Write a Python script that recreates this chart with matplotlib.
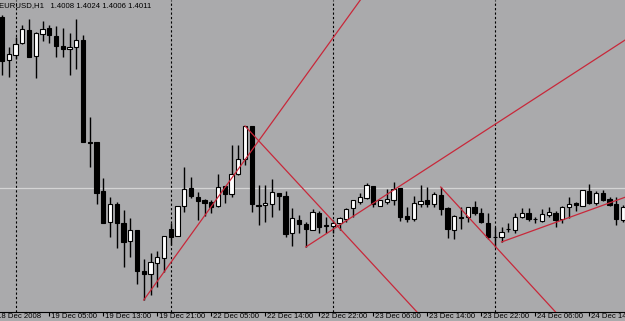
import numpy as np
import matplotlib.pyplot as plt
import matplotlib.transforms as mtransforms

# EURUSD H1 bars, 18 Dec 22:00 -> 24 Dec, left to right
opens = [1.4353, 1.4267, 1.4277, 1.4301, 1.4327, 1.4275, 1.4319, 1.4331, 1.4315, 1.4295,
         1.4289, 1.4293, 1.4307, 1.4103, 1.4103, 1.4005, 1.3943, 1.3979, 1.3941, 1.3905,
         1.3927, 1.3845, 1.3839, 1.3861, 1.3871, 1.3929, 1.3915, 1.3975, 1.4011, 1.3993,
         1.3987, 1.3983, 1.3975, 1.4015, 1.3999, 1.4039, 1.4069, 1.4135, 1.3977, 1.3977,
         1.3979, 1.4001, 1.3995, 1.3921, 1.3947, 1.3939, 1.3927, 1.3961, 1.3937, 1.3935,
         1.3941, 1.3949, 1.3971, 1.3983, 1.3991, 1.4015, 1.3975, 1.3983, 1.3987, 1.4011,
         1.3955, 1.3949, 1.3979, 1.3987, 1.3979, 1.3997, 1.3971, 1.3927, 1.3953, 1.3953,
         1.3973, 1.3961, 1.3941, 1.3913, 1.3913, 1.3929, 1.3927, 1.3953, 1.3961, 1.3949,
         1.3945, 1.3957, 1.3961, 1.3949, 1.3973, 1.3981, 1.3975, 1.4005, 1.3981, 1.4001,
         1.3989, 1.3979, 1.3947]
highs = [1.4357, 1.4293, 1.4313, 1.4337, 1.4349, 1.4323, 1.4345, 1.4337, 1.4335, 1.4331,
         1.4321, 1.4349, 1.4317, 1.4153, 1.4103, 1.4031, 1.3993, 1.3983, 1.3967, 1.3951,
         1.3927, 1.3869, 1.3881, 1.3885, 1.3915, 1.3941, 1.3975, 1.4053, 1.4033, 1.4003,
         1.3989, 1.3987, 1.4039, 1.4015, 1.4097, 1.4097, 1.4135, 1.4135, 1.4017, 1.4017,
         1.4029, 1.4001, 1.4005, 1.3971, 1.3957, 1.3943, 1.3969, 1.3965, 1.3953, 1.3947,
         1.3953, 1.3971, 1.3987, 1.4001, 1.4021, 1.4015, 1.3987, 1.4009, 1.4023, 1.4011,
         1.3973, 1.3995, 1.4017, 1.4013, 1.4003, 1.4013, 1.3973, 1.3957, 1.3973, 1.3973,
         1.3985, 1.3971, 1.3961, 1.3933, 1.3933, 1.3941, 1.3961, 1.3971, 1.3971, 1.3953,
         1.3969, 1.3973, 1.3965, 1.3975, 1.3993, 1.3983, 1.4007, 1.4019, 1.4005, 1.4007,
         1.3993, 1.3993, 1.3977]
lows = [1.4237, 1.4233, 1.4269, 1.4299, 1.4273, 1.4231, 1.4305, 1.4301, 1.4273, 1.4273,
        1.4237, 1.4249, 1.4103, 1.4053, 1.3979, 1.3941, 1.3913, 1.3891, 1.3853, 1.3873,
        1.3819, 1.3787, 1.3797, 1.3813, 1.3843, 1.3897, 1.3915, 1.3963, 1.3991, 1.3947,
        1.3955, 1.3961, 1.3973, 1.3981, 1.3993, 1.4037, 1.4057, 1.3963, 1.3937, 1.3943,
        1.3953, 1.3967, 1.3913, 1.3895, 1.3921, 1.3893, 1.3927, 1.3921, 1.3921, 1.3921,
        1.3927, 1.3943, 1.3953, 1.3979, 1.3989, 1.3973, 1.3975, 1.3979, 1.3977, 1.3945,
        1.3943, 1.3945, 1.3973, 1.3973, 1.3973, 1.3957, 1.3911, 1.3909, 1.3929, 1.3943,
        1.3957, 1.3941, 1.3909, 1.3893, 1.3903, 1.3923, 1.3921, 1.3951, 1.3945, 1.3941,
        1.3943, 1.3953, 1.3933, 1.3941, 1.3951, 1.3965, 1.3975, 1.3979, 1.3977, 1.3985,
        1.3975, 1.3937, 1.3943]
closes = [1.4265, 1.4279, 1.4299, 1.4329, 1.4273, 1.4321, 1.4329, 1.4317, 1.4295, 1.4289,
          1.4293, 1.4307, 1.4103, 1.4101, 1.4001, 1.3941, 1.3979, 1.3941, 1.3903, 1.3927,
          1.3845, 1.3839, 1.3863, 1.3873, 1.3915, 1.3913, 1.3975, 1.4009, 1.3995, 1.3985,
          1.3981, 1.3973, 1.4013, 1.3999, 1.4039, 1.4069, 1.4135, 1.3979, 1.3975, 1.3981,
          1.4003, 1.3995, 1.3919, 1.3951, 1.3939, 1.3929, 1.3963, 1.3933, 1.3935, 1.3941,
          1.3951, 1.3969, 1.3987, 1.3993, 1.4017, 1.3979, 1.3987, 1.3989, 1.4009, 1.3953,
          1.3949, 1.3981, 1.3985, 1.3979, 1.3999, 1.3969, 1.3929, 1.3955, 1.3951, 1.3973,
          1.3961, 1.3943, 1.3913, 1.3913, 1.3923, 1.3929, 1.3953, 1.3961, 1.3949, 1.3949,
          1.3959, 1.3963, 1.3947, 1.3973, 1.3979, 1.3977, 1.4007, 1.3981, 1.4001, 1.3987,
          1.3977, 1.3949, 1.3973]

# time axis labels (bar index, text)
label_bars = [-1, 7, 15, 23, 31, 39, 47, 55, 63, 71, 79, 87]
label_texts = ['18 Dec 2008', '19 Dec 05:00', '19 Dec 13:00', '19 Dec 21:00',
               '22 Dec 05:00', '22 Dec 14:00', '22 Dec 22:00', '23 Dec 06:00',
               '23 Dec 14:00', '23 Dec 22:00', '24 Dec 06:00', '24 Dec 14:00']
day_breaks = [2, 25, 49, 73]   # first bar of each new day
bid = 1.4011
header = 'EURUSD,H1   1.4008 1.4024 1.4006 1.4011'

# trend lines: two anchor points each (bar, price), drawn as rays to the right
trend_lines = [
    ((21, 1.3787), (31, 1.3974)),
    ((36, 1.4135), (46, 1.3989)),
    ((45, 1.3893), (65, 1.4068)),
    ((65, 1.4013), (75, 1.3866)),
    ((74, 1.3903), (92, 1.3991)),
]

bg = '#aaaaac'
fig = plt.figure(figsize=(6.25, 3.21), dpi=100, facecolor=bg)
ax = fig.add_axes([0, 9 / 321, 1, 312 / 321], facecolor=bg)

o = np.array(opens)
h = np.array(highs)
l = np.array(lows)
c = np.array(closes)
x = np.arange(len(o))

# background stuff
for b in day_breaks:
    ax.axvline(b, color='black', lw=0.8, ls=(0, (2, 2)), zorder=1)
ax.axhline(bid, color='#d4d4d4', lw=0.9, zorder=1)

# candles
ax.vlines(x, l, h, color='black', lw=1.0, zorder=2)
up = c > o
face = ['white' if u else 'black' for u in up]
ax.bar(x, np.abs(c - o), bottom=np.minimum(o, c), width=0.64,
       color=face, edgecolor='black', linewidth=0.8, zorder=3)

# trend lines
for (x1, y1), (x2, y2) in trend_lines:
    slope = (y2 - y1) / (x2 - x1)
    xe = 130
    ax.plot([x1, xe], [y1, y1 + slope * (xe - x1)], color='#c8283a', lw=0.9, zorder=4)

ax.set_xlim(-2 / 6.75, 623 / 6.75)
ax.set_ylim(1.3763, 1.4387)

for s in ['top', 'left', 'right']:
    ax.spines[s].set_visible(False)
ax.spines['bottom'].set_color('black')
ax.spines['bottom'].set_linewidth(0.8)
ax.set_yticks([])
ax.set_xticks(label_bars[1:])
ax.set_xticklabels([])
ax.tick_params(axis='x', direction='out', length=3, width=0.8, color='black')

trans = mtransforms.blended_transform_factory(ax.transData, ax.transAxes)
trans = mtransforms.offset_copy(trans, fig=fig, x=2, y=-1, units='dots')
for b, t in zip(label_bars, label_texts):
    ax.text(b, 0, t, transform=trans, ha='left', va='top', fontsize=5.6,
            family='Liberation Sans', color='black', clip_on=False)

fig.text(-1 / 625, 1 - 7.5 / 321, header, ha='left', va='baseline', fontsize=5.6,
         family='Liberation Sans', color='black')

fig.savefig('out.png', dpi=100, facecolor=bg)
